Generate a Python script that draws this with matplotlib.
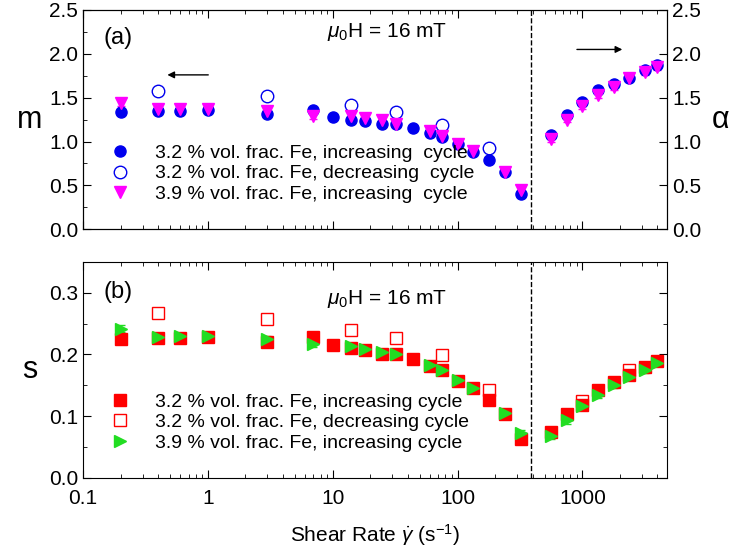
import matplotlib
matplotlib.use("Agg")
import matplotlib.pyplot as plt
import numpy as np
from matplotlib.ticker import LogLocator, NullFormatter, FixedLocator, FuncFormatter

plt.rcParams['font.family'] = ['Liberation Sans', 'DejaVu Sans']
plt.rcParams['mathtext.fontset'] = 'custom'
plt.rcParams['mathtext.rm'] = 'Liberation Sans'
plt.rcParams['mathtext.it'] = 'Liberation Sans:italic'

x_inc = [0.2, 0.4, 0.6, 1, 3, 7, 10, 14, 18, 25, 32, 44, 60, 75, 100, 133, 180, 240, 320,
         560, 750, 1000, 1330, 1780, 2370, 3160, 4000]
m_inc32 = [1.34, 1.35, 1.35, 1.36, 1.31, 1.36, 1.28, 1.24, 1.23, 1.20, 1.20, 1.15, 1.10, 1.05, 0.97, 0.88, 0.79, 0.65, 0.40,
           1.08, 1.30, 1.45, 1.59, 1.66, 1.73, 1.81, 1.87]
x_dec = [0.4, 3, 14, 32, 75, 180]
m_dec32 = [1.58, 1.52, 1.42, 1.34, 1.19, 0.93]
x_39 = [0.2, 0.4, 0.6, 1, 3, 7, 14, 18, 25, 32, 60, 75, 100, 133, 240, 320,
        560, 750, 1000, 1330, 1780, 2370, 3160, 4000]
m_inc39 = [1.44, 1.37, 1.37, 1.37, 1.35, 1.29, 1.29, 1.27, 1.24, 1.20, 1.12, 1.06, 0.97, 0.89, 0.65, 0.45,
           1.03, 1.25, 1.40, 1.53, 1.62, 1.72, 1.79, 1.85]

s_inc32 = [0.225, 0.226, 0.226, 0.228, 0.221, 0.228, 0.215, 0.210, 0.207, 0.201, 0.200, 0.193, 0.182, 0.175, 0.157, 0.146, 0.127, 0.103, 0.063,
           0.075, 0.103, 0.118, 0.143, 0.156, 0.166, 0.180, 0.189]
x_sdec = [0.4, 3, 14, 32, 75, 180, 1000, 2370]
s_dec32 = [0.268, 0.257, 0.240, 0.226, 0.199, 0.143, 0.125, 0.175]
s_inc39 = [0.242, 0.228, 0.230, 0.230, 0.225, 0.217, 0.213, 0.209, 0.204, 0.200, 0.183, 0.175, 0.159, 0.145, 0.105, 0.072,
           0.068, 0.093, 0.116, 0.134, 0.151, 0.163, 0.175, 0.186]

fig = plt.figure(figsize=(7.35, 5.55), dpi=100)
ax1 = fig.add_axes([0.113, 0.587, 0.795, 0.395])
ax2 = fig.add_axes([0.113, 0.139, 0.795, 0.389])

def style(ax):
    ax.set_xscale('log')
    ax.set_xlim(0.1, 4800)
    ax.xaxis.set_major_locator(LogLocator(base=10, numticks=10))
    ax.xaxis.set_minor_locator(LogLocator(base=10, subs=np.arange(2, 10), numticks=100))
    ax.xaxis.set_minor_formatter(NullFormatter())
    ax.tick_params(which='both', direction='in', top=True, right=True, labelsize=15)
    ax.tick_params(which='major', length=6)
    ax.tick_params(which='minor', length=3)
    ax.axvline(390, color='k', ls='--', lw=1)

style(ax1)
ax1.set_ylim(0, 2.5)
ax1.yaxis.set_major_locator(FixedLocator([0, 0.5, 1.0, 1.5, 2.0, 2.5]))
ax1.yaxis.set_minor_locator(FixedLocator(np.arange(0.25, 2.5, 0.5)))
ax1.set_yticklabels(['0.0', '0.5', '1.0', '1.5', '2.0', '2.5'])
ax1.set_xticklabels([])
ax1.set_ylabel('m', fontsize=22, rotation=0, labelpad=14, va='center')
ax1r = ax1.twinx()
ax1r.set_ylim(0, 2.5)
ax1r.yaxis.set_major_locator(FixedLocator([0, 0.5, 1.0, 1.5, 2.0, 2.5]))
ax1r.set_yticklabels(['0.0', '0.5', '1.0', '1.5', '2.0', '2.5'])
ax1r.tick_params(direction='in', labelsize=15, length=6)
ax1r.set_ylabel('α', fontsize=22, rotation=0, labelpad=14, va='center')

h1 = ax1.errorbar(x_inc, m_inc32, yerr=0.03, fmt='o', color='#0000ee', ms=8, capsize=3, elinewidth=1)
h2, = ax1.plot(x_dec, m_dec32, 'o', mfc='none', mec='#0000ee', ms=9, mew=1)
h3 = ax1.errorbar(x_39, m_inc39, yerr=0.03, fmt='v', color='#ff00ff', ms=9, capsize=3, elinewidth=1)
ax1.legend([h1[0], h2, h3[0]],
           ['3.2 % vol. frac. Fe, increasing  cycle', '3.2 % vol. frac. Fe, decreasing  cycle',
            '3.9 % vol. frac. Fe, increasing  cycle'],
           loc='lower left', bbox_to_anchor=(0.0, 0.04), frameon=False, fontsize=14,
           handletextpad=0.8, labelspacing=0.15)
ax1.text(0.035, 0.87, '(a)', transform=ax1.transAxes, fontsize=17, va='center')
ax1.text(0.52, 0.9, r'$\mu_0$H = 16 mT', transform=ax1.transAxes, fontsize=15, ha='center', va='center')
ax1.annotate('', xy=(0.45, 1.76), xytext=(1.06, 1.76), arrowprops=dict(arrowstyle='-|>', color='k', lw=1))
ax1.annotate('', xy=(2200, 2.05), xytext=(860, 2.05), arrowprops=dict(arrowstyle='-|>', color='k', lw=1))

style(ax2)
ax2.set_ylim(0, 0.35)
ax2.yaxis.set_major_locator(FixedLocator([0, 0.1, 0.2, 0.3]))
ax2.yaxis.set_minor_locator(FixedLocator([0.05, 0.15, 0.25]))
ax2.set_yticklabels(['0.0', '0.1', '0.2', '0.3'])
ax2.xaxis.set_major_formatter(FuncFormatter(lambda v, p: f'{v:g}'))
ax2.tick_params(axis='x', pad=8)
ax2.set_ylabel('s', fontsize=22, rotation=0, labelpad=14, va='center')
ax2.set_xlabel(r'Shear Rate $\dot{\gamma}$ (s$^{-1}$)', fontsize=15, labelpad=10)

g1 = ax2.errorbar(x_inc, s_inc32, yerr=0.005, fmt='s', color='#ff0000', ms=8, capsize=3, elinewidth=1)
g2, = ax2.plot(x_sdec, s_dec32, 's', mfc='none', mec='#ff0000', ms=8, mew=1)
g3 = ax2.errorbar(x_39, s_inc39, yerr=0.005, fmt='>', color='#22dd22', ms=9, capsize=3, elinewidth=1)
ax2.legend([g1[0], g2, g3[0]],
           ['3.2 % vol. frac. Fe, increasing cycle', '3.2 % vol. frac. Fe, decreasing cycle',
            '3.9 % vol. frac. Fe, increasing cycle'],
           loc='lower left', bbox_to_anchor=(0.0, 0.04), frameon=False, fontsize=14,
           handletextpad=0.8, labelspacing=0.15)
ax2.text(0.035, 0.86, '(b)', transform=ax2.transAxes, fontsize=17, va='center')
ax2.text(0.52, 0.83, r'$\mu_0$H = 16 mT', transform=ax2.transAxes, fontsize=15, ha='center', va='center')

fig.savefig('out.png', dpi=100)
